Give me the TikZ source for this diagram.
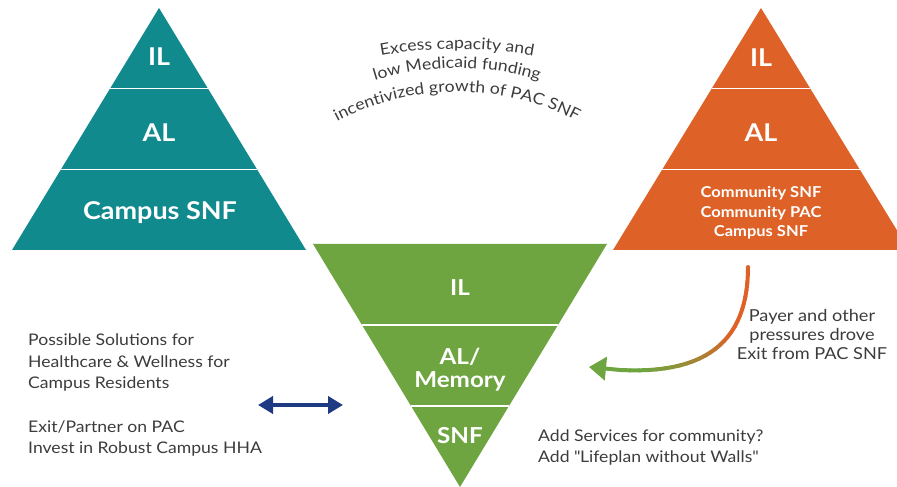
\documentclass[tikz,border=0pt]{standalone}
\usepackage{fontspec}
\setmainfont{Lato}[FakeStretch=1.1]
\usetikzlibrary{arrows.meta,calc,decorations.text}

\definecolor{tealpyr}{RGB}{16,138,141}
\definecolor{orangepyr}{RGB}{222,98,40}
\definecolor{greenpyr}{RGB}{110,165,64}
\definecolor{navyarr}{RGB}{30,58,130}
\definecolor{txtgray}{RGB}{60,60,60}

\newcommand\arcfont{\fontsize{16}{16}\selectfont}

\tikzset{
  lvl/.style={text=white,font=\bfseries\fontsize{24.5}{23}\selectfont,align=center,
    text height=17.6pt,text depth=0pt,inner sep=0pt},
  lvlmid/.style={text=white,font=\bfseries\fontsize{22}{23}\selectfont,align=center,
    text height=15.8pt,text depth=0pt,inner sep=0pt},
  lvltwo/.style={text=white,font=\bfseries\fontsize{22}{23}\selectfont,align=center,
    inner sep=0pt,anchor=base},
  lvlsmall/.style={text=white,font=\bfseries\fontsize{15}{19.5}\selectfont,align=center,
    inner sep=0pt,anchor=base},
  note/.style={text=txtgray,font=\fontsize{16}{21.5}\selectfont,inner sep=0pt},
  divider/.style={white,line width=1.5pt},
  twoway/.style={navyarr,line width=4pt,
    {Triangle[length=15pt,width=17pt]}-{Triangle[length=15pt,width=17pt]}},
  arcline/.style={decorate,decoration={text along path,text align=center,
    text color=txtgray,text={|\arcfont|#1}}},
}

\begin{document}
\begin{tikzpicture}[x=1pt,y=1pt]
\useasboundingbox (0,0) rectangle (897,487);

% corners of the three pyramids
\coordinate (lt) at (159,479);
\coordinate (lbl) at (12,237);
\coordinate (lbr) at (306,237);
\coordinate (rt) at (761,479);
\coordinate (rbl) at (613,237);
\coordinate (rbr) at (909,237);
\coordinate (mb) at (460,0);
\coordinate (mtl) at (313,243);
\coordinate (mtr) at (607,243);

% pyramids
\fill[tealpyr] (lt) -- (lbl) -- (lbr) -- cycle;
\fill[greenpyr] (mb) -- (mtl) -- (mtr) -- cycle;
\begin{scope}
\clip (0,0) rectangle (897,487);
\fill[orangepyr] (rt) -- (rbl) -- (rbr) -- cycle;

% white lines between the levels
\foreach \k in {1/3,2/3}
{
    \draw[divider] ($(lt)!\k!(lbl)$) -- ($(lt)!\k!(lbr)$);
    \draw[divider] ($(rt)!\k!(rbl)$) -- ($(rt)!\k!(rbr)$);
    \draw[divider] ($(mb)!\k!(mtl)$) -- ($(mb)!\k!(mtr)$);
}
\end{scope}

% levels, left
\node[lvl] (ilL) at (159,430) {IL};
\node[lvl] (alL) at (159,354) {AL};
\node[lvl] (snfL) at (160,276) {Campus SNF};

% levels, right
\node[lvl] (ilR) at (761,429) {IL};
\node[lvl] (alR) at (761,354) {AL};
\node[lvlsmall] (snfR) at (761,250) {Community SNF\\Community PAC\\Campus SNF};

% levels, middle
\node[lvlmid] (ilM) at (460,199) {IL};
\node[lvltwo] (alM) at (460,99) {AL/\\Memory};
\node[lvlmid] (snfM) at (460,51) {SNF};

% arched text
\path[arcline={Excess capacity and}]
    ($(457,18)+(110:420)$) arc[start angle=110,end angle=70,radius=420];
\path[arcline={low Medicaid funding}]
    ($(457,139)+(120:280)$) arc[start angle=120,end angle=60,radius=280];
\path[arcline={incentivized growth of PAC SNF}]
    ($(457,135)+(140:260)$) arc[start angle=140,end angle=40,radius=260];

% notes
\node[note,anchor=base west,align=left] (solutions) at (28,33)
    {Possible Solutions for\\Healthcare \& Wellness for\\Campus Residents\\[22pt]
     Exit/Partner on PAC\\Invest in Robust Campus HHA};
\node[note,anchor=base,align=center,font=\fontsize{16.5}{19.3}\selectfont] (payer) at (812,127)
    {Payer and other\\pressures drove\\Exit from PAC SNF};
\node[note,anchor=base west,align=left,font=\fontsize{16}{21}\selectfont] (services) at (538,24)
    {Add Services for community?\\Add \textquotedbl Lifeplan without Walls\textquotedbl};

% double arrow
\coordinate (dl) at (258,82);
\coordinate (dr) at (343,82);
\draw[twoway] (dl) -- (dr);

% curved arrow, orange to green
\coordinate (cs) at (748,220);
\coordinate (ce) at (589,120);
\path (cs) .. controls (748,140) and (700,105) .. (ce)
    foreach \i in {0,...,30} {coordinate[pos=\i/30] (c\i)};
\foreach \i in {0,...,26}
{
    \pgfmathtruncatemacro\j{\i+1}
    \pgfmathtruncatemacro\p{min(100,max(0,(\i-10)*7))}
    \draw[line width=4pt,line cap=round,greenpyr!\p!orangepyr] (c\i) -- (c\j);
}
\draw[line width=4pt,greenpyr,-{Triangle[length=17pt,width=23pt]}] (c27) -- (ce);

\end{tikzpicture}
\end{document}
